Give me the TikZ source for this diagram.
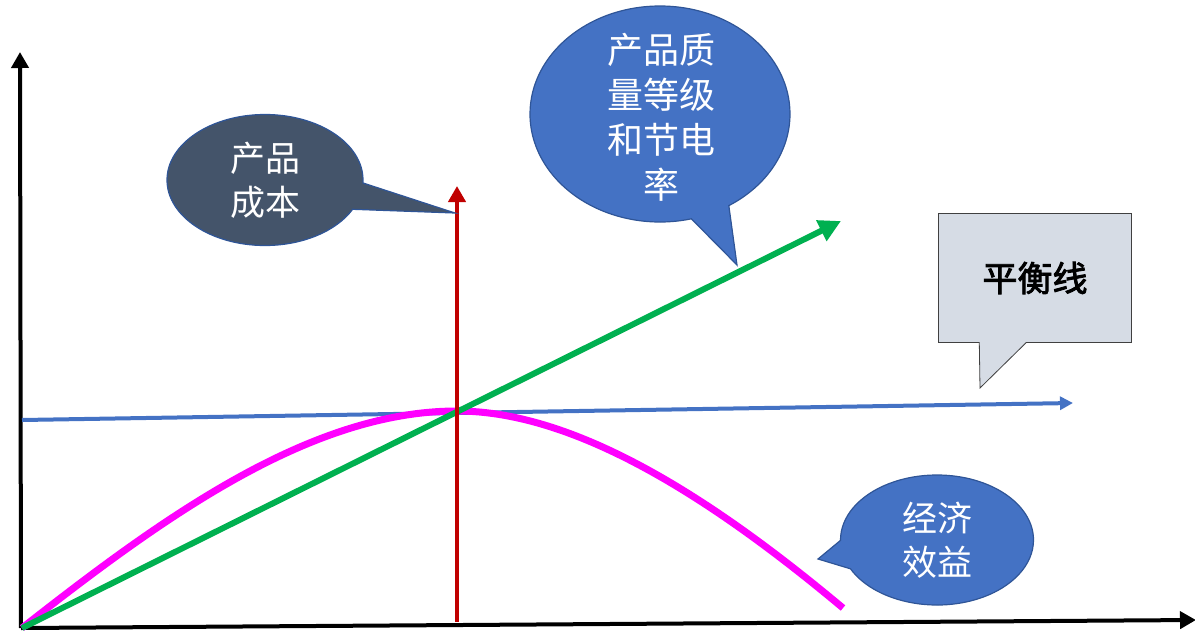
\documentclass[tikz,border=0pt]{standalone}
\usepackage{fontspec}
\newfontfamily\cjk{Noto Sans CJK SC}
\newfontfamily\cjkb[FakeBold=2.5]{Noto Sans CJK SC}
\usetikzlibrary{arrows.meta,shapes.callouts}
\definecolor{slate}{HTML}{44546A}
\definecolor{bblue}{HTML}{4472C4}
\definecolor{bord}{HTML}{2F5597}
\definecolor{ggreen}{HTML}{00B050}
\definecolor{rred}{HTML}{C00000}
\definecolor{mag}{HTML}{FF00FF}
\definecolor{pale}{HTML}{D6DCE5}
\begin{document}
\begin{tikzpicture}[x=1pt,y=-1pt,
  bubble/.style={ellipse callout, draw=bord, line width=1.2pt, inner sep=0pt},
  lbl/.style={text=white, font=\cjk\fontsize{35}{44}\selectfont, align=center, inner sep=0pt},
  axis/.style={line width=4pt, -{Triangle[length=16pt,width=17pt]}}]
\useasboundingbox (0,0) rectangle (1195,630);
% points
\coordinate (O) at (21,628);
\coordinate (Ytop) at (20,52);
\coordinate (Xend) at (1196,620);
\coordinate (Rb) at (457,622);
\coordinate (Rt) at (457,186);
\coordinate (G0) at (22,628);
\coordinate (Gt) at (841,221);
\coordinate (B0) at (22,420);
\coordinate (Bt) at (1073,403);
\coordinate (Peak) at (457,411);
\coordinate (Mend) at (843,608);
% axes
\draw[axis] (O) -- (Ytop);
\draw[axis] (O) -- (Xend);
% blue balance line
\draw[bblue, line width=4pt, -{Triangle[length=13pt,width=13pt]}] (B0) -- (Bt);
% magenta curve
\draw[mag, line width=7pt] (G0) .. controls (167,514) and (312,411) .. (Peak)
  .. controls (580,411) and (720,505) .. (Mend);
% green
\draw[ggreen, line width=6pt, -{Triangle[length=22pt,width=22pt]}] (G0) -- (Gt);
% red
\draw[rred, line width=4pt, -{Triangle[length=16pt,width=17pt]}] (Rb) -- (Rt);
% callouts
\node[bubble, fill=slate, minimum width=196pt, minimum height=131pt,
  callout pointer arc=24, callout absolute pointer={(455,213)}] (c1) at (265,180) {};
\node[lbl] (t1) at (c1.center) {产品\\成本};
\node[bubble, fill=bblue, minimum width=260pt, minimum height=216pt,
  callout pointer arc=18, callout absolute pointer={(737,265)}] (c2) at (660,114) {};
\node[lbl, font=\cjk\fontsize{36}{45}\selectfont] (t2) at (661,117) {产品质\\量等级\\和节电\\率};
\node[bubble, fill=bblue, minimum width=193pt, minimum height=130pt,
  callout pointer arc=26, callout absolute pointer={(818,559)}] (c3) at (937,540) {};
\node[lbl] (t3) at (c3.center) {经济\\效益};
\node[rectangle callout, draw=black!75, line width=0.8pt, fill=pale, minimum width=193pt, minimum height=129pt,
  inner sep=0pt, callout pointer width=47pt, callout absolute pointer={(980,388)},
  font=\cjkb\fontsize{35}{44}\selectfont] (c4) at (1035,278) {平衡线};
\end{tikzpicture}
\end{document}
